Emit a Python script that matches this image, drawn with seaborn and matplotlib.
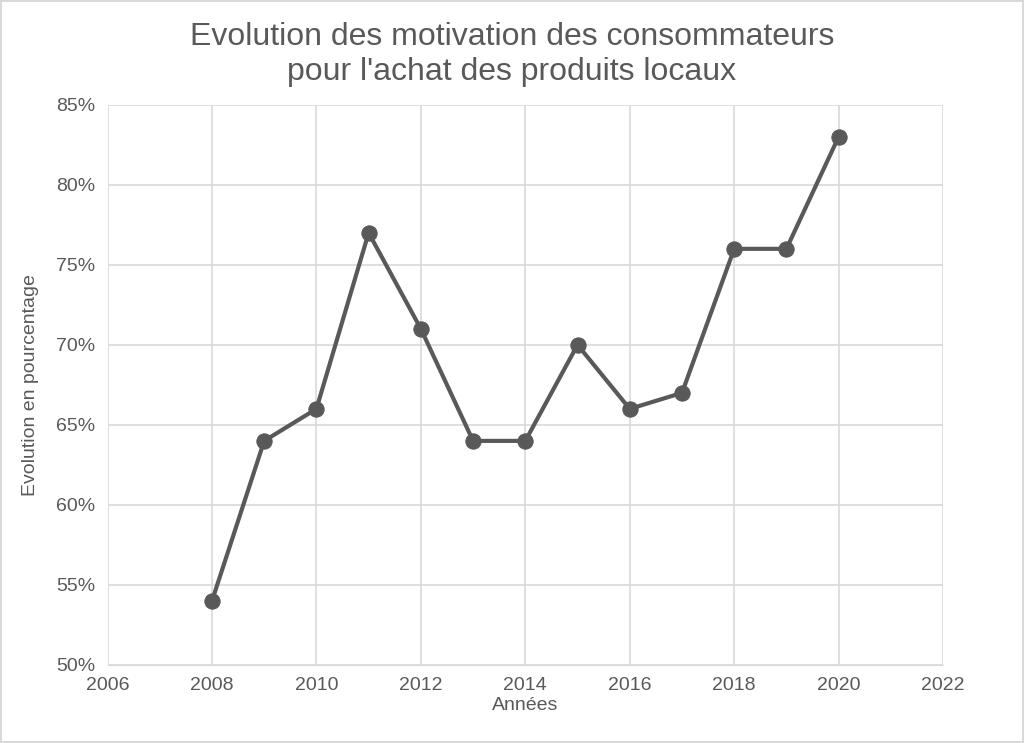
import numpy as np
import pandas as pd
import seaborn as sns
import matplotlib.pyplot as plt
from matplotlib.ticker import FuncFormatter, MultipleLocator

years = [2008, 2009, 2010, 2011, 2012, 2013, 2014, 2015, 2016, 2017, 2018, 2019, 2020]
pct = [0.54, 0.64, 0.66, 0.77, 0.71, 0.64, 0.64, 0.70, 0.66, 0.67, 0.76, 0.76, 0.83]

df = pd.DataFrame({'Années': years, 'Evolution': pct})
grey = '#595959'
plt.rcParams['font.family'] = 'Liberation Sans'

fig = plt.figure(figsize=(10.24, 7.43), dpi=100)
ax = fig.add_axes([0.105, 0.105, 0.816, 0.754])
sns.lineplot(data=df, x='Années', y='Evolution', ax=ax, color=grey, lw=3,
             marker='o', markersize=11, markeredgecolor=grey)

ax.set_xlim(2006, 2022)
ax.set_ylim(0.50, 0.85)
ax.xaxis.set_major_locator(MultipleLocator(2))
ax.yaxis.set_major_locator(MultipleLocator(0.05))
ax.yaxis.set_major_formatter(FuncFormatter(lambda v, _: f'{v*100:.0f}%'))
ax.grid(True, color='#d9d9d9', lw=1.2)
ax.set_axisbelow(True)
for s in ['top', 'right', 'left']:
    ax.spines[s].set_visible(False)
ax.spines['bottom'].set_color('#d9d9d9')
ax.tick_params(length=0, labelsize=14, labelcolor=grey, pad=9)
ax.set_xlabel('Années', fontsize=14, color=grey, labelpad=2)
ax.set_ylabel('Evolution en pourcentage', fontsize=14, color=grey, labelpad=12)
fig.suptitle("Evolution des motivation des consommateurs\npour l'achat des produits locaux",
             fontsize=23, color=grey, y=0.97, x=0.5)
fig.patch.set_edgecolor('#d9d9d9')
fig.patch.set_linewidth(1.5)
fig.savefig('out.png', dpi=100, edgecolor=fig.get_edgecolor())
